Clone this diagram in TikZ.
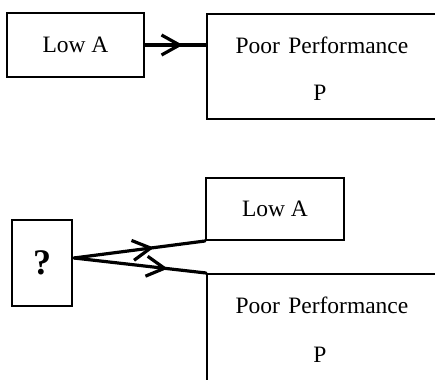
\documentclass[tikz,border=0pt]{standalone}
\usepackage{fontspec}
\setmainfont{Liberation Serif}
\usetikzlibrary{arrows.meta,decorations.markings,calc}
\begin{document}
\begin{tikzpicture}[x=1pt,y=1pt,
  box/.style={draw, line width=2pt, rectangle, inner sep=0pt},
  lbl/.style={font=\fontsize{23.5}{27}\selectfont, inner sep=0pt},
  midarrow/.style={postaction={decorate}, decoration={markings,
     mark=at position #1 with {\arrow{Straight Barb[length=18pt,width=20pt,line width=3.2pt]}}}},
  link/.style={line width=3.2pt, line cap=round}
]
\clip (0,0) rectangle (435,379);
% ---- top row ----
\node[box, minimum width=137, minimum height=64] (lowA1) at (75.5,334) {};
\node[lbl] (lowA1t) at (lowA1.center) {Low A};
\node[box, anchor=north west, minimum width=239, minimum height=105] (pp1) at (206,366) {};
\node[lbl] (pp1t) at (322,334) {Poor\hspace{0.35em}Performance};
\node[lbl] (pp1p) at (320,286) {P};
\coordinate (pp1in) at (pp1.west |- lowA1.east);
\draw[link, line width=4.5pt, line cap=butt, midarrow=0.62] (lowA1.east) -- (pp1in);
% ---- bottom row ----
\node[box, minimum width=60, minimum height=86] (q) at (42,116) {};
\node[lbl, font=\fontsize{36}{40}\selectfont\bfseries] (qt) at (q.center) {?};
\node[box, minimum width=138, minimum height=62] (lowA2) at (275,170) {};
\node[lbl] (lowA2t) at (lowA2.center) {Low A};
\node[box, anchor=north west, minimum width=239, minimum height=117] (pp2) at (206,106) {};
\node[lbl] (pp2t) at (322,74) {Poor\hspace{0.35em}Performance};
\node[lbl] (pp2p) at (320,24) {P};
\coordinate (qs) at ($(q.east)+(1,5)$);
\draw[link, midarrow=0.61] (qs) -- (lowA2.south west);
\draw[link, midarrow=0.71] (qs) -- (pp2.north west);
\end{tikzpicture}
\end{document}
